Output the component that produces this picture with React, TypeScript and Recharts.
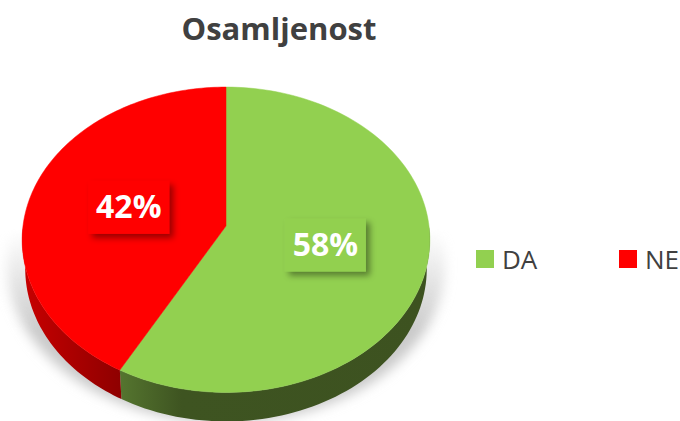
import React from 'react';
import { PieChart, Pie, Cell, Legend } from 'recharts';

const categories = ['DA', 'NE'];
const shares = [58, 42];

const data = categories.map((name, i) => ({ name, value: shares[i] }));

const faceColors = ['#92D050', '#FF0000'];
const wallStops = [
  ['#55752F', '#3E5421', '#3D5220'],
  ['#C80000', '#A80000', '#8E0000'],
];

const FONT = '"Open Sans", sans-serif';
const TILT = 0.746; // squash of the disc
const PERSPECTIVE = 0.09; // front edge looks bigger than the back edge
const DEPTH = 29;

const RAD = Math.PI / 180;

// turns an angle + radius on the flat pie into a point on the tilted disc
const project = (cx: number, cy: number, radius: number, angle: number, r = 1) => {
  const x = Math.cos(angle * RAD) * r;
  const y = -Math.sin(angle * RAD) * r;
  const d = 1 - PERSPECTIVE * y;
  return { x: cx + (radius * x) / d, y: cy + (radius * TILT * y) / d, below: y };
};

const arcPoints = (p: any) => {
  const pts = [];
  const steps = 120;
  for (let i = 0; i <= steps; i++) {
    const a = p.startAngle + ((p.endAngle - p.startAngle) * i) / steps;
    pts.push(project(p.cx, p.cy, p.outerRadius, a));
  }
  return pts;
};

const FaceShape = (p: any) => {
  const pts = arcPoints(p);
  const d = `M${p.cx},${p.cy} ` + pts.map((q) => `L${q.x},${q.y}`).join(' ') + ' Z';
  return <path d={d} fill={p.fill} stroke={p.fill} strokeWidth={0.5} />;
};

const WallShape = (p: any) => {
  const pts = arcPoints(p).filter((q) => q.below >= 0);
  if (!pts.length) return <g />;
  const lower = pts
    .slice()
    .reverse()
    .map((q) => ({ x: p.cx + (q.x - p.cx) * 0.985, y: q.y + DEPTH }));
  const d = 'M' + pts.concat(lower).map((q) => `${q.x},${q.y}`).join(' L') + ' Z';
  const id = `wall-${p.index}`;
  // green wall runs left to right from the seam, red one ends at the seam
  const stops = wallStops[p.index];
  return (
    <g>
      <defs>
        <linearGradient id={id} x1="0" x2="1" y1="0" y2="0">
          <stop offset="0" stopColor={stops[0]} />
          <stop offset={p.index === 0 ? '0.2' : '0.55'} stopColor={stops[1]} />
          <stop offset="1" stopColor={stops[2]} />
        </linearGradient>
      </defs>
      <path d={d} fill={`url(#${id})`} />
    </g>
  );
};

const PercentLabel = (p: any) => {
  const pos = project(p.cx, p.cy, p.outerRadius, p.midAngle, 0.5);
  const w = 81;
  const h = 53;
  return (
    <g>
      <rect
        x={pos.x - w / 2}
        y={pos.y - h / 2}
        width={w}
        height={h}
        fill={faceColors[p.index]}
        filter="url(#labelShadow)"
      />
      <text
        x={pos.x}
        y={pos.y + 11}
        textAnchor="middle"
        fill="#FFFFFF"
        fontFamily={FONT}
        fontWeight={700}
        fontSize={32}
      >
        {Math.round(p.percent * 100)}%
      </text>
    </g>
  );
};

const LegendRow = ({ payload }: any) => (
  <div style={{ display: 'flex', fontFamily: FONT, fontSize: 26, color: '#404040', lineHeight: '36px' }}>
    {(payload || [])
      .filter((item: any) => item.type !== 'none' && faceColors.includes(item.color))
      .map((item: any) => (
        <div key={item.value} style={{ display: 'flex', alignItems: 'center', width: 143 }}>
          <span style={{ width: 18, height: 18, background: item.color, marginRight: 8 }} />
          <span>{item.value}</span>
        </div>
      ))}
  </div>
);

export default function App() {
  return (
    <div style={{ position: 'absolute', left: 0, top: 0, width: 680, height: 421, overflow: 'hidden' }}>
      <PieChart width={680} height={421} margin={{ top: 0, right: 0, bottom: 0, left: 0 }}>
        <defs>
          <filter id="discShadow" x="-20%" y="-20%" width="140%" height="140%">
            <feGaussianBlur stdDeviation="6" />
          </filter>
          <filter id="labelShadow" x="-30%" y="-30%" width="160%" height="160%">
            <feDropShadow dx="4" dy="4" stdDeviation="3" floodColor="#000000" floodOpacity="0.4" />
          </filter>
          <linearGradient id="shadowFade" x1="0" x2="0" y1="0" y2="1" gradientUnits="objectBoundingBox">
            <stop offset="0" stopColor="#000000" />
            <stop offset="0.38" stopColor="#000000" />
            <stop offset="0.68" stopColor="#FFFFFF" />
            <stop offset="1" stopColor="#FFFFFF" />
          </linearGradient>
          <mask id="shadowMask" maskUnits="userSpaceOnUse" x="0" y="100" width="680" height="340">
            <rect x="0" y="100" width="680" height="340" fill="url(#shadowFade)" />
          </mask>
        </defs>
        <text
          x={279}
          y={40}
          textAnchor="middle"
          fill="#404040"
          fontFamily={FONT}
          fontWeight={700}
          fontSize={31}
        >
          Osamljenost
        </text>
        <g mask="url(#shadowMask)">
          <ellipse cx={226} cy={265} rx={219} ry={158} fill="#CBCBCB" filter="url(#discShadow)" />
        </g>
        <Pie
          data={data}
          dataKey="value"
          nameKey="name"
          cx={226}
          cy={226}
          outerRadius={203}
          startAngle={90}
          endAngle={-270}
          stroke="none"
          legendType="none"
          shape={WallShape}
          isAnimationActive={false}
        />
        <Pie
          data={data}
          dataKey="value"
          nameKey="name"
          cx={226}
          cy={226}
          outerRadius={203}
          startAngle={90}
          endAngle={-270}
          stroke="none"
          shape={FaceShape}
          label={PercentLabel}
          labelLine={false}
          isAnimationActive={false}
        >
          {data.map((d, i) => (
            <Cell key={d.name} fill={faceColors[i]} />
          ))}
        </Pie>
        <Legend
          content={<LegendRow />}
          wrapperStyle={{ position: 'absolute', left: 476, top: 241, width: 300, bottom: 'auto' }}
        />
      </PieChart>
    </div>
  );
}
